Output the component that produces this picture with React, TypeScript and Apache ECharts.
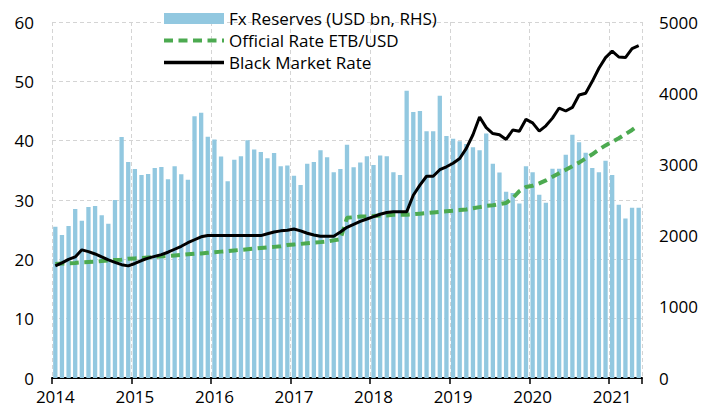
import React, { useEffect, useRef } from "react";
import * as echarts from "echarts";

const startYear = 2014;
const monthCount = 89; // Jan 2014 .. May 2021

const fxReserves = [
  2125, 2010, 2135, 2375, 2210, 2400, 2415, 2285, 2165, 2500, 3385, 3035,
  2935, 2850, 2865, 2950, 2965, 2790, 2975, 2860, 2785, 3675, 3725, 3390,
  3350, 3110, 2765, 3065, 3115, 3340, 3210, 3175, 3085, 3160, 2975, 2985,
  2840, 2710, 3010, 3035, 3200, 3100, 2890, 2935, 3275, 2960, 3025, 3115,
  2990, 3125, 3115, 2890, 2850, 4035, 3735, 3750, 3465, 3465, 3965, 3400,
  3360, 3325, 3285, 3240, 3200, 3435, 3010, 2885, 2615, 2600, 2450, 2975,
  2890, 2575, 2460, 2940, 2940, 3135, 3415, 3310, 3165, 2950, 2890, 3050,
  2850, 2435, 2240, 2390, 2390,
];

const officialRate = [
  19.2, 19.3, 19.35, 19.4, 19.5, 19.55, 19.6, 19.7, 19.8, 19.9, 19.95, 20.1,
  20.15, 20.2, 20.3, 20.4, 20.5, 20.55, 20.65, 20.75, 20.85, 20.95, 21.0, 21.1,
  21.2, 21.3, 21.4, 21.5, 21.6, 21.7, 21.8, 21.9, 22.0, 22.1, 22.2, 22.4,
  22.5, 22.6, 22.7, 22.8, 22.9, 23.0, 23.2, 23.4, 27.0, 27.1, 27.2, 27.2,
  27.3, 27.4, 27.4, 27.5, 27.5, 27.5, 27.6, 27.7, 27.8, 27.9, 28.0, 28.1,
  28.2, 28.3, 28.4, 28.6, 28.8, 29.0, 29.1, 29.3, 29.5, 30.3, 31.5, 32.2,
  32.4, 32.8, 33.3, 33.9, 34.5, 35.1, 35.7, 36.3, 37.0, 37.7, 38.5, 39.2,
  39.8, 40.4, 41.1, 41.8, 42.6,
];

const blackMarketRate = [
  18.9, 19.4, 20.0, 20.4, 21.6, 21.3, 20.9, 20.4, 19.9, 19.5, 19.1, 18.9,
  19.3, 19.8, 20.2, 20.5, 20.8, 21.2, 21.7, 22.2, 22.8, 23.3, 23.8, 24.0,
  24.0, 24.0, 24.0, 24.0, 24.0, 24.0, 24.0, 24.0, 24.3, 24.6, 24.8, 24.9,
  25.1, 24.8, 24.4, 24.1, 23.9, 23.9, 23.9, 24.6, 25.4, 25.9, 26.4, 26.8,
  27.2, 27.6, 27.9, 28.0, 28.0, 28.0, 30.8, 32.5, 34.0, 34.0, 35.1, 35.6,
  36.2, 37.0, 38.7, 41.0, 44.0, 42.2, 41.2, 41.0, 40.2, 41.8, 41.6, 43.6,
  43.0, 41.6, 42.5, 43.8, 45.5, 45.0, 45.6, 47.7, 48.0, 50.0, 52.2, 54.0,
  55.1, 54.1, 54.0, 55.5, 56.0,
];

const months: string[] = [];
for (let i = 0; i < monthCount; i++) {
  const y = startYear + Math.floor(i / 12);
  const m = (i % 12) + 1;
  months.push(`${y}-${m < 10 ? "0" + m : m}`);
}

const FONT = "'Open Sans', 'Noto Sans', sans-serif";
const GREEN = "#4caa50";

export default function App() {
  const ref = useRef<HTMLDivElement>(null);
  useEffect(() => {
    if (!ref.current) return;
    const chart = echarts.init(ref.current, undefined, { renderer: "svg" });
    const gridLine = { show: true, lineStyle: { color: "#d4d4d4", type: [4, 3] as any, width: 1 } };
    chart.setOption({
      animation: false,
      backgroundColor: "#ffffff",
      textStyle: { fontFamily: FONT },
      grid: { left: 52, right: 72, top: 22, bottom: 31, containLabel: false },
      legend: {
        orient: "vertical",
        left: 162,
        top: 10,
        padding: 0,
        itemWidth: 60,
        itemHeight: 11,
        itemGap: 5,
        textStyle: { fontSize: 17, color: "#000", fontFamily: FONT },
        data: [
          { name: "Fx Reserves (USD bn, RHS)", icon: "rect" },
          {
            name: "Official Rate ETB/USD",
            itemStyle: { opacity: 0 },
            lineStyle: { width: 4, color: GREEN, type: [9, 5.5] as any },
          },
          {
            name: "Black Market Rate",
            itemStyle: { opacity: 0 },
            lineStyle: { width: 3.5, color: "#000" },
          },
        ],
      },
      xAxis: {
        type: "category",
        data: months,
        boundaryGap: true,
        axisLine: { lineStyle: { color: "#000", width: 2 } },
        axisTick: {
          show: true,
          length: 6,
          lineStyle: { color: "#000", width: 1.5 },
          interval: (idx: number) => idx % 12 === 0,
        },
        axisLabel: {
          interval: (idx: number) => idx % 12 === 0,
          formatter: (v: string) => v.slice(0, 4),
          color: "#000",
          fontSize: 17,
          margin: 10,
          fontFamily: FONT,
        },
        splitLine: { ...gridLine, interval: (idx: number) => idx % 12 === 0 },
      },
      yAxis: [
        {
          type: "value",
          min: 0,
          max: 60,
          interval: 10,
          axisLine: { show: false },
          axisTick: { show: false },
          axisLabel: { color: "#000", fontSize: 17, margin: 18, fontFamily: FONT },
          splitLine: gridLine,
        },
        {
          type: "value",
          min: 0,
          max: 5000,
          interval: 1000,
          position: "right",
          axisLine: { show: false },
          axisTick: { show: false },
          axisLabel: {
            color: "#000",
            fontSize: 17,
            margin: 17,
            fontFamily: FONT,
            formatter: (v: number) => String(v),
          },
          splitLine: { show: false },
        },
      ],
      series: [
        {
          name: "Fx Reserves (USD bn, RHS)",
          type: "bar",
          yAxisIndex: 1,
          data: fxReserves,
          barWidth: "65%",
          itemStyle: { color: "#92c8e0" },
        },
        {
          name: "Official Rate ETB/USD",
          type: "line",
          yAxisIndex: 0,
          data: officialRate,
          symbol: "none",
          lineStyle: { color: GREEN, width: 4, type: [9, 5.5] as any },
          itemStyle: { color: GREEN },
        },
        {
          name: "Black Market Rate",
          type: "line",
          yAxisIndex: 0,
          data: blackMarketRate,
          symbol: "none",
          lineStyle: { color: "#000", width: 3 },
          itemStyle: { color: "#000" },
        },
      ],
    });
    return () => chart.dispose();
  }, []);
  return <div ref={ref} style={{ width: 714, height: 409, position: "absolute", left: 0, top: 0 }} />;
}
